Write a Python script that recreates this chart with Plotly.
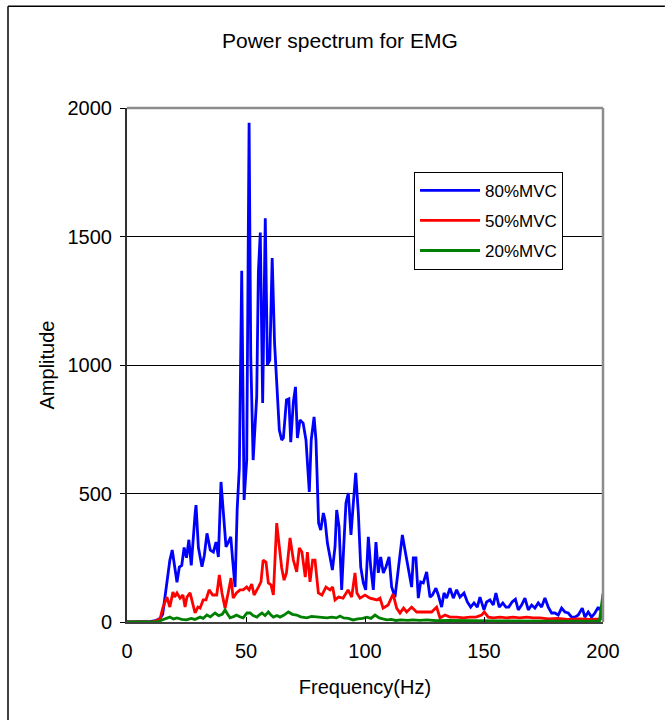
import plotly.graph_objects as go

# ---- data ----
blue_f = [0, 5, 10, 12, 14, 15, 16, 17, 18, 19, 20, 21, 22, 23, 24, 25, 26, 27, 28.6, 29, 30, 31.5, 32.5,
          33.6, 35, 36.3, 37.4, 38.4, 39.5, 40.5, 41.6, 42.6, 43.6, 44.4, 45.4, 46.3, 47.2, 48.2, 49.2,
          50.3, 51.3, 52, 53, 54.5, 55.2, 56, 57, 58.1, 59, 60, 61, 62, 63, 64, 65, 65.7, 67, 68, 68.8,
          69.9, 70.8, 71.6, 72.7, 74, 75.2, 76.6, 77.4, 78.6, 79.4, 80.5, 81.4, 82.5, 83.2, 84.2, 85.3,
          86.3, 87.4, 88.1, 89.1, 90.2, 91.2, 92, 93, 94.1, 95.1, 96.1, 97.2, 98.2, 99.3, 100.3, 101.4,
          102.4, 103.5, 104.6, 105.6, 106.6, 107.7, 108.8, 110.1, 111.2, 112.6, 114, 115.7, 116.8, 118.2,
          119.6, 120.3, 121.4, 122.4, 123.4, 124.5, 125.9, 127.3, 128.3, 129.8, 130.8, 132.2, 133.2, 134.3,
          135.7, 137.1, 138.5, 139.9, 141.6, 143, 144.4, 145.8, 147.2, 148.3, 150, 151.1, 152.5, 153.9,
          155, 156.4, 157.9, 159.2, 160.4, 161.8, 163.2, 164.4, 165.8, 167.2, 168.6, 170, 171.4, 172.8,
          174.2, 175.6, 177, 178.4, 179.8, 181.2, 182.6, 184, 185.4, 186.8, 188.2, 189.6, 191.3, 192.4,
          193.8, 195.2, 196.6, 198, 198.7, 200]
blue_a = [0, 0, 2, 5, 15, 30, 97, 170, 240, 280, 220, 155, 214, 220, 290, 250, 320, 220, 420, 455, 290, 215, 260,
          345, 280, 272, 311, 253, 545, 436, 292, 311, 331, 241, 136, 440, 600, 1367, 475,
          630, 1943, 1032, 630, 877, 1363, 1515, 852, 1571, 1000, 1019, 1416, 1085, 891, 747, 708, 716, 864, 868, 700,
          856, 915, 716, 786, 774, 708, 506, 708, 798, 708, 385, 358, 424, 397, 307, 253,
          202, 292, 436, 370, 125, 319, 463, 502, 339, 463, 580, 424, 214, 152, 125, 331,
          214, 125, 311, 191, 253, 191, 214, 253, 136, 97, 202, 339, 280, 214,
          136, 249, 249, 93, 156, 152, 195, 97, 105, 132, 105, 58, 113, 93,
          132, 93, 125, 97, 113, 78, 58, 74, 58, 97, 47, 78, 86, 66,
          113, 58, 74, 58, 58, 78, 89, 47, 66, 93, 47, 66, 54, 74,
          58, 93, 58, 35, 35, 27, 54, 39, 35, 19, 19, 27, 54, 19,
          39, 19, 35, 58, 47, 70]

red_f = [0, 10, 12, 14, 15, 16.8, 18, 19.3, 20, 21, 22.3, 23.5, 24.4, 25.2, 26.5, 27.7, 28.6, 29.8, 30.7, 32,
         33.2, 34.5, 36, 37.7, 38.8, 39.9, 41.2, 42.5, 43.7, 44.6, 46, 47.5, 48.8, 50.3, 51.3, 52.4, 53.4,
         55.2, 56.3, 57.2, 58.4, 59.4, 60.5, 61.5, 62.9, 64, 65, 66, 67, 68.5, 69.9, 71.3, 72.4, 73.5, 74.9,
         75.8, 76.9, 78, 79, 80.4, 81.9, 83.6, 85.3, 86.4, 87.4, 88.9, 90.8, 92.9, 94.4, 95.8, 96.6, 97.9,
         100, 102.1, 105, 106.3, 107.6, 109.7, 111.8, 113.3, 114.7, 116.2, 117.5, 119.6, 121.7, 123.8, 125.9,
         128, 130.1, 131.5, 133.6, 135.7, 138.5, 141.3, 144.1, 146.6, 149, 150.1, 151.8, 153.9, 156.7, 159.5,
         162.2, 165, 168, 170.7, 173.5, 177, 181, 185, 190, 195, 199, 200]
red_a = [0, 0, 3, 15, 54, 97, 58, 117, 97, 113, 93, 105, 58, 97, 113, 74, 35, 58, 54, 86,
         86, 125, 105, 105, 183, 113, 54, 113, 171, 93, 113, 125, 125, 136, 125, 148, 105,
         136, 156, 241, 233, 152, 144, 105, 385, 292, 210, 163, 191, 327, 241, 195, 288, 272, 175,
         272, 156, 241, 241, 113, 105, 136, 125, 136, 86, 97, 93, 125, 97, 191, 113, 93,
         105, 93, 86, 93, 54, 66, 109, 54, 35, 54, 39, 58, 39, 39, 39,
         39, 58, 16, 27, 19, 19, 16, 19, 19, 27, 39, 19, 16, 19, 16,
         19, 16, 19, 16, 16, 12, 14, 10, 12, 10, 12, 60]

green_f = [0, 13, 14.7, 16, 18, 19.5, 21, 23, 25, 27, 28.5, 30.7, 32, 33.6, 35, 37, 38.5, 40, 41.2, 42.3,
           43.3, 45, 46, 47.5, 48.8, 50.4, 51.7, 53, 54.6, 55.5, 56.7, 58, 59.4, 60.5, 61.5, 63, 64.3, 66,
           67.8, 69.5, 71.3, 73, 75.6, 77.5, 79.8, 82, 84, 86, 88, 89.5, 91, 93, 95, 97, 99, 100.8, 102.5,
           104.2, 106, 107.5, 109.2, 111, 113, 115, 118, 120, 123, 126, 130, 135, 140, 145, 150, 155, 160,
           165, 170, 175, 180, 185, 190, 195, 198.5, 200]
green_a = [0, 0, 8, 12, 19, 12, 16, 10, 8, 14, 10, 19, 14, 27, 20, 35, 25, 30, 47, 30,
           16, 22, 27, 20, 16, 35, 35, 25, 19, 27, 35, 25, 39, 27, 19, 25, 19, 27,
           39, 30, 27, 20, 16, 22, 19, 16, 16, 19, 16, 23, 16, 14, 8, 12, 14, 19, 14,
           27, 16, 12, 8, 10, 6, 8, 6, 8, 6, 8, 5, 6, 5, 4, 5, 4, 4,
           3, 4, 3, 3, 3, 3, 3, 3, 110]

series_names = ["80%MVC", "50%MVC", "20%MVC"]
series_colors = ["#0000FF", "#FF0000", "#008000"]
x_ticks = [0, 50, 100, 150, 200]
y_ticks = [0, 500, 1000, 1500, 2000]

FONT = "Liberation Sans, Arial, sans-serif"

fig = go.Figure()
for name, col, fx, fy in zip(series_names, series_colors,
                             [blue_f, red_f, green_f], [blue_a, red_a, green_a]):
    fig.add_trace(go.Scatter(x=fx, y=fy, mode="lines", name=name, legendgroup=name,
                             line=dict(color=col, width=2.8)))

fig.update_layout(
    width=670, height=720,
    margin=dict(l=127, r=67, t=108, b=98),
    paper_bgcolor="white", plot_bgcolor="white",
    font=dict(family=FONT, size=20, color="black"),
    showlegend=True,
    legend=dict(x=0.603, y=0.876, xanchor="left", yanchor="top",
                bgcolor="white", bordercolor="black", borderwidth=1,
                font=dict(size=17), tracegroupgap=5, itemwidth=60,
                entrywidth=160, entrywidthmode="pixels"),
    xaxis=dict(range=[0, 200], tickvals=x_ticks, ticks="inside", ticklen=5, tickcolor="black",
               showgrid=False, zeroline=False, showline=True, linecolor="#404040", linewidth=2,
               ticklabelstandoff=10,
               tickfont=dict(size=20), title=dict(text="Frequency(Hz)", standoff=19, font=dict(size=20))),
    yaxis=dict(range=[0, 2000], tickvals=y_ticks, ticks="outside", ticklen=5, tickcolor="black",
               showgrid=True, gridcolor="black", gridwidth=1, zeroline=False,
               showline=True, linecolor="#303030", linewidth=2,
               ticklabelstandoff=4,
               tickfont=dict(size=20), title=dict(text="Amplitude", standoff=8, font=dict(size=20))),
    annotations=[dict(text="Power spectrum for EMG", x=0.448, y=1.132, xref="paper", yref="paper",
                      showarrow=False, xanchor="center", yanchor="middle", font=dict(size=21))],
    shapes=[
        # plot area frame (gray)
        dict(type="line", xref="paper", yref="paper", x0=0, x1=1, y0=1, y1=1,
             line=dict(color="#8C8C8C", width=2.5)),
        dict(type="line", xref="paper", yref="paper", x0=1, x1=1, y0=0, y1=1,
             line=dict(color="#8C8C8C", width=2.5)),
        # outer chart frame (left and top)
        dict(type="line", xref="paper", yref="paper", x0=-0.25, x1=-0.25, y0=-0.3, y1=1.198,
             line=dict(color="black", width=1.5)),
        dict(type="line", xref="paper", yref="paper", x0=-0.25, x1=1.13, y0=1.198, y1=1.198,
             line=dict(color="black", width=1.5)),
    ],
)

fig.write_html("out.html")
